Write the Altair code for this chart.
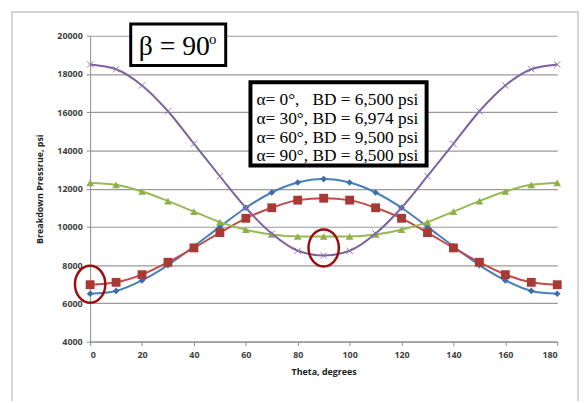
import altair as alt
import pandas as pd

theta = [0, 10, 20, 30, 40, 50, 60, 70, 80, 90, 100, 110, 120, 130, 140, 150, 160, 170, 180]
bd_a0 = [6500, 6650, 7200, 8000, 8980, 10000, 11000, 11800, 12320, 12500, 12320, 11800, 11000, 10000, 8980, 8000, 7200, 6650, 6500]
bd_a30 = [6974, 7100, 7500, 8150, 8900, 9700, 10450, 11000, 11400, 11500, 11400, 11000, 10450, 9700, 8900, 8150, 7500, 7100, 6974]
bd_a60 = [12300, 12200, 11850, 11350, 10800, 10250, 9850, 9600, 9500, 9500, 9500, 9600, 9850, 10250, 10800, 11350, 11850, 12200, 12300]
bd_a90 = [18500, 18250, 17400, 16050, 14350, 12650, 11000, 9650, 8750, 8500, 8750, 9650, 11000, 12650, 14350, 16050, 17400, 18250, 18500]

series_names = ["a0", "a30", "a60", "a90"]
series_values = [bd_a0, bd_a30, bd_a60, bd_a90]
line_colors = ["#4A7EBB", "#BE4B48", "#98B954", "#7D60A0"]
marker_colors = ["#3C6FAA", "#A83A36", "#8DB048", "#8A74B0"]
marker_shapes = ["diamond", "square", "triangle-up", "M-1,-1L1,1M-1,1L1,-1"]
marker_sizes = [45, 80, 60, 40]

legend_lines = [
    "\u03b1= 0\u00b0,\u00a0\u00a0 BD = 6,500 psi",
    "\u03b1= 30\u00b0, BD = 6,974 psi",
    "\u03b1= 60\u00b0, BD = 9,500 psi",
    "\u03b1= 90\u00b0, BD = 8,500 psi",
]

# circled points (theta, pressure)
circle_theta = [0, 90]
circle_value = [7000, 8900]

y_ticks = [4000, 6000, 8000, 10000, 12000, 14000, 16000, 18000, 20000]
x_ticks = [0, 20, 40, 60, 80, 100, 120, 140, 160, 180]

W, H = 472, 309

x_scale = alt.Scale(domain=[0, 180], nice=False, zero=False)
y_scale = alt.Scale(domain=[4000, 20000], nice=False, zero=False)

x_axis = alt.Axis(values=x_ticks, title="Theta, degrees", grid=False, format="d",
                  labelFont="Open Sans", labelFontSize=9, labelFontWeight="bold",
                  labelColor="#404040", titleFont="Open Sans", titleFontSize=9,
                  titleFontWeight="bold", titleColor="#202020", titlePadding=8,
                  domainColor="#8c8c8c", tickColor="#8c8c8c", tickSize=4,
                  labelPadding=5, labelOverlap=False)
y_axis = alt.Axis(values=y_ticks, title="Breakdown Pressrue, psi", grid=True, format="d",
                  gridColor="#9a9a9a", gridWidth=1.2,
                  labelFont="Open Sans", labelFontSize=9, labelFontWeight="bold",
                  labelColor="#404040", titleFont="Open Sans", titleFontSize=9,
                  titleFontWeight="bold", titleColor="#202020", titlePadding=12,
                  domainColor="#8c8c8c", tickColor="#8c8c8c", tickSize=4,
                  labelPadding=4, labelOverlap=False)

x_enc = alt.X("theta:Q", scale=x_scale, axis=x_axis)
y_enc = alt.Y("v:Q", scale=y_scale, axis=y_axis)

layers = []

# outer chart-area border
border = alt.Chart(pd.DataFrame({"a": [0]})).mark_rect(
    fill=None, stroke="#c8c8c8", strokeWidth=1.5
).encode(x=alt.value(-79), x2=alt.value(W + 21), y=alt.value(-24), y2=alt.value(H + 80))
layers.append(border)

for name, vals, lc, mc, shp, sz in zip(series_names, series_values, line_colors,
                                       marker_colors, marker_shapes, marker_sizes):
    df = pd.DataFrame({"theta": theta, "v": vals})
    base = alt.Chart(df).encode(x=x_enc, y=y_enc)
    line = base.mark_line(color=lc, strokeWidth=2, interpolate="monotone")
    if shp.startswith("M"):
        pts = base.mark_point(shape=shp, size=sz, filled=False, stroke=mc,
                              strokeWidth=1, opacity=1)
    else:
        pts = base.mark_point(shape=shp, size=sz, filled=True, color=mc, opacity=1)
    layers.append(line)
    layers.append(pts)

# red ellipses
ell_df = pd.DataFrame({"theta": circle_theta, "v": circle_value})
ellipse = alt.Chart(ell_df).mark_point(
    shape="M-0.82,0A0.82,1,0,1,0,0.82,0A0.82,1,0,1,0,-0.82,0Z",
    size=1400, filled=False, stroke="#9A1010", strokeWidth=2.5, opacity=1
).encode(x=x_enc, y=y_enc)
layers.append(ellipse)

# beta box
beta_box = alt.Chart(pd.DataFrame({"a": [0]})).mark_rect(
    fill="white", stroke="black", strokeWidth=3
).encode(x=alt.value(41), x2=alt.value(137), y=alt.value(-12), y2=alt.value(30))
layers.append(beta_box)
beta_text = alt.Chart(pd.DataFrame({"t": ["\u03b2 = 90"]})).mark_text(
    font="Liberation Serif", fontSize=28, align="left", baseline="alphabetic", color="black"
).encode(text="t:N", x=alt.value(49), y=alt.value(19))
layers.append(beta_text)
beta_sup = alt.Chart(pd.DataFrame({"t": ["o"]})).mark_text(
    font="Liberation Serif", fontSize=15, align="left", baseline="alphabetic", color="black"
).encode(text="t:N", x=alt.value(120), y=alt.value(8))
layers.append(beta_sup)

# legend box
leg_box = alt.Chart(pd.DataFrame({"a": [0]})).mark_rect(
    fill="white", stroke="black", strokeWidth=4
).encode(x=alt.value(162), x2=alt.value(340), y=alt.value(47), y2=alt.value(131))
layers.append(leg_box)
for i, line_text in enumerate(legend_lines):
    t = alt.Chart(pd.DataFrame({"t": [line_text]})).mark_text(
        font="Liberation Serif", fontSize=17.5, align="left", baseline="middle", color="black"
    ).encode(text="t:N", x=alt.value(168), y=alt.value(65 + i * 19))
    layers.append(t)

chart = alt.layer(*layers).properties(
    width=W, height=H,
    autosize=alt.AutoSizeParams(type="none"),
    padding={"left": 83, "top": 26, "right": 22, "bottom": 58},
    background="white",
).configure_view(stroke=None)

chart.save("out.html", embed_options={"renderer": "svg", "actions": False})
